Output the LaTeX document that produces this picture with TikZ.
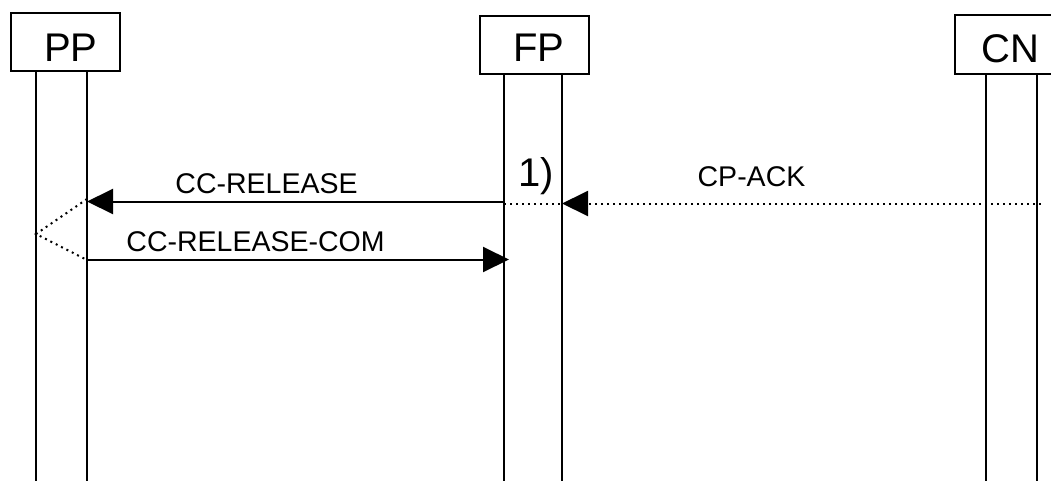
\documentclass[tikz,border=0pt]{standalone}
\usepackage{fontspec}
\setmainfont{Liberation Sans}
\usetikzlibrary{arrows.meta}
\begin{document}
\begin{tikzpicture}[x=1pt,y=-1pt,
  ent/.style={draw, line width=2pt, minimum width=109pt, minimum height=58pt, inner sep=0pt, anchor=north west},
  life/.style={line width=2pt},
  msg/.style={line width=2pt, -{Triangle[length=26pt,width=25pt]}},
  dots/.style={line width=2pt, dash pattern=on 2pt off 4pt},
  big/.style={font=\fontsize{40}{44}\selectfont, inner sep=0pt, anchor=base west},
  lab/.style={font=\fontsize{28.5}{32}\selectfont, inner sep=0pt, anchor=base}]
\useasboundingbox (0,0) rectangle (1051,480);
\clip (0,0) rectangle (1051,480);
% entity boxes
\node[ent] (pp) at (10,12) {};
\node[ent] (fp) at (479,15) {};
\node[ent, minimum height=59pt] (cn) at (954,14) {};
\node[big] (ppt) at (44,61.5) {PP};
\node[big] (fpt) at (513,61.5) {FP};
\node[big] (cnt) at (981,62.5) {CN};
% lifelines
\coordinate (ppLt) at (36,70);  \coordinate (ppLb) at (36,481);
\coordinate (ppRt) at (87,70);  \coordinate (ppRb) at (87,481);
\coordinate (fpLt) at (504,73); \coordinate (fpLb) at (504,481);
\coordinate (fpRt) at (562,73); \coordinate (fpRb) at (562,481);
\coordinate (cnLt) at (986,73); \coordinate (cnLb) at (986,481);
\coordinate (cnRt) at (1037,73); \coordinate (cnRb) at (1037,481);
\draw[life] (ppLt) -- (ppLb);
\draw[life] (ppRt) -- (ppRb);
\draw[life] (fpLt) -- (fpLb);
\draw[life] (fpRt) -- (fpRb);
\draw[life] (cnLt) -- (cnLb);
\draw[life] (cnRt) -- (cnRb);
% message points
\coordinate (relS) at (504,201.5);
\coordinate (relE) at (87,201.5);
\coordinate (fpD1) at (504,203.5);
\coordinate (fpD2) at (562,203.5);
\coordinate (ackS) at (981,203.5);
\coordinate (cnD1) at (991,203.5);
\coordinate (cnD2) at (1041,203.5);
\coordinate (ppA) at (87,199);
\coordinate (ppM) at (36,234);
\coordinate (ppB) at (87,260);
\coordinate (comE) at (509,259.5);
% messages
\draw[msg] (relS) -- (relE);
\draw[dots] (fpD1) -- (fpD2);
\draw[dots, -{Triangle[length=26pt,width=25pt]}] (ackS) -- (fpD2);
\draw[dots] (cnD1) -- (cnD2);
\draw[dots] (ppA) -- (ppM) -- (ppB);
\draw[msg] (87,259.5) -- (comE);
% labels
\node[lab] (l1) at (266.5,193) {CC-RELEASE};
\node[lab] (l2) at (255.5,251) {CC-RELEASE-COM};
\node[lab] (l3) at (751.5,186) {CP-ACK};
\node[lab, font=\fontsize{40}{44}\selectfont] (l4) at (536,186) {1)};
\end{tikzpicture}
\end{document}
